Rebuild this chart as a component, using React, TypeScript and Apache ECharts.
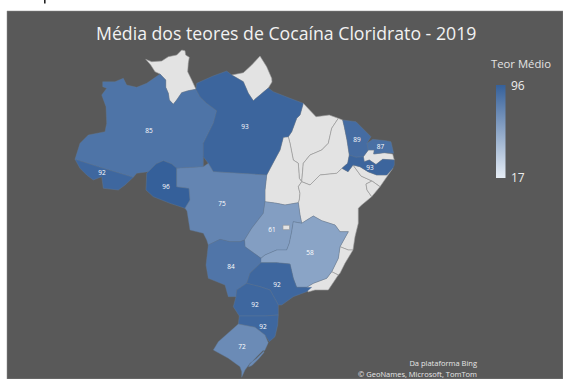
import React, { useEffect, useRef } from "react";
import * as echarts from "echarts";

// Average purity per reporting state; states absent from these lists have no data.
const reportingStates = ["AM", "AC", "RO", "PA", "MT", "GO", "MG", "MS", "SP", "PR", "SC", "RS", "CE", "RN", "PE"];
const averageContent = [85, 92, 96, 93, 75, 61, 58, 84, 92, 92, 92, 72, 89, 87, 93];
const scaleMin = 17;
const scaleMax = 96;
const scaleColors = ["#e6edf5", "#35609a"];

const titleText = "Média dos teores de Cocaína Cloridrato - 2019";
const legendTitle = "Teor Médio";
const attribution = ["Da plataforma Bing", "© GeoNames, Microsoft, TomTom"];

type Pt = [number, number];

// State outlines on a flat map plane, x to the east and y to the south.
const RR: Pt[] = [[145.7,59.3],[151.7,61.7],[161.7,61],[168.3,56.7],[176.7,55],[181.7,50],[185,50.7],[185.7,55],[189.3,57.3],[188.3,63.3],[187.7,71.7],[191.7,80],[196,89.3],[188.3,90.7],[181.7,92.7],[176.7,100],[173.3,104.3],[169.3,100],[168.3,93.3],[165.7,87.3],[165.7,80],[160,74],[155,71.7],[150.7,65]];
const AM: Pt[] = [[102.7,81.7],[115,81.7],[123.3,78.3],[126.7,85],[136.7,87.3],[146.7,83.3],[160,74],[165.7,80],[165.7,87.3],[168.3,93.3],[169.3,100],[173.3,104.3],[176.7,100],[181.7,92.7],[188.3,90.7],[196,89.3],[200,96.7],[206.7,103.3],[216.7,110.7],[213.3,123.3],[203.3,143.3],[203.3,156.7],[203.3,166.7],[176.7,168.3],[171.7,164],[163.3,160.7],[156,164],[148.3,171.7],[136.7,173.3],[133.3,177.3],[103.3,168.3],[75,159.3],[80,143.3],[88.3,135],[105,131.7],[106.7,123.3],[106,106.7],[101.7,95],[106.7,88.3],[102.7,86.7]];
const AC: Pt[] = [[75,159.3],[103.3,168.3],[133.3,177.3],[125,185],[118.3,190],[103.3,188.3],[101.7,176.7],[93.3,180],[86.7,175],[80,168.3]];
const RO: Pt[] = [[148.3,171.7],[156,164],[163.3,160.7],[171.7,164],[176.7,168.3],[176.7,186.7],[189,188.3],[190,200],[185,208.3],[170,203.3],[153.3,196.7],[146,190],[146.7,173.3]];
const PA: Pt[] = [[196,89.3],[196.7,83.3],[213,76],[226.7,71],[231.7,75],[243.3,81.7],[248.3,93.3],[253.3,100.7],[260,95],[268.3,88],[273.3,91.7],[290,98.3],[303.3,103.3],[300,115],[296.7,118.3],[291.7,131.7],[288.3,136.7],[283.3,137.3],[280,150],[273,163],[266.7,175],[213.3,171.7],[208.3,163.3],[203.3,156.7],[203.3,143.3],[213.3,123.3],[216.7,110.7],[206.7,103.3],[200,96.7]];
const AP: Pt[] = [[231.7,75],[243.3,72.7],[251.7,65],[260,56],[266.7,66.7],[271.7,78.3],[272,82],[268.3,88],[260,95],[253.3,100.7],[248.3,93.3],[243.3,81.7]];
const MA: Pt[] = [[303.3,103.3],[316,116.7],[329.3,115],[338.3,118.3],[331.7,128.3],[328.3,143.3],[321.7,150],[310,155],[303.3,163.3],[301.7,181.7],[299.3,178.3],[298.3,163.3],[293.3,160],[290,143.3],[288.3,136.7],[291.7,131.7],[296.7,118.3],[300,115]];
const PI: Pt[] = [[338.3,118.3],[342.7,120],[344.3,126.7],[347,140],[349.3,155],[347.7,163.3],[342,168.3],[336.7,173.3],[320,175],[310,185],[301.7,181.7],[303.3,163.3],[310,155],[321.7,150],[328.3,143.3],[331.7,128.3]];
const CE: Pt[] = [[342.7,120],[356,121.7],[371,136.7],[367,143.3],[368.3,150],[363.3,156.7],[356,157.3],[349.3,155],[347,140],[344.3,126.7]];
const RN: Pt[] = [[367,143.3],[372.7,139.3],[386,140.7],[391,141.7],[393.7,153.3],[384.3,152.7],[373.7,154],[374.3,150],[368.3,150]];
const PB: Pt[] = [[363.3,156.7],[368.3,150],[374.3,150],[373.7,154],[384.3,152.7],[392.7,154],[394.3,160],[382.7,159.3],[376,164.5],[369.3,160],[364.3,161.7]];
const PE: Pt[] = [[349.3,155],[356,157.3],[363.3,156.7],[364.3,161.7],[369.3,160],[376,164.5],[382.7,159.3],[394.3,160],[394.3,165],[393,168],[386.7,175],[376.7,175],[368,171.7],[360,166.7],[353,165],[348,171.7],[342,168.3],[347.7,163.3]];
const AL: Pt[] = [[353,165],[360,166.7],[368,171.7],[376.7,175],[386.7,175],[393,168],[380,186.7],[372,181],[361,176]];
const SE: Pt[] = [[372,181],[380,186.7],[371.7,196.7],[367,190],[366,184]];
const TO: Pt[] = [[283.3,137.3],[288.3,136.7],[290,143.3],[293.3,160],[298.3,163.3],[299.3,178.3],[301.7,181.7],[298.3,186.7],[300,193.3],[299.3,200],[298.3,202.7],[285,205],[276.7,203.3],[265,201.7],[265,190],[266.7,175],[273,163],[280,150]];
const BA: Pt[] = [[301.7,181.7],[310,185],[320,175],[336.7,173.3],[342,168.3],[348,171.7],[353,165],[361,176],[372,181],[366,184],[367,190],[371.7,196.7],[361.7,205],[358.3,208.3],[358.3,223.3],[355,236.7],[353,250],[348.3,250],[340,246.7],[348.3,231.7],[340,231.7],[335,225],[321.7,220.7],[313.3,216],[301.7,223.3],[300,215],[298.3,202.7],[299.3,200],[300,193.3],[298.3,186.7]];
const ES: Pt[] = [[340,246.7],[348.3,250],[353,250],[345,263.3],[340,273.3],[338.3,275],[331.7,271.7],[338.3,258.3]];
const RJ: Pt[] = [[306.7,287.3],[313.3,283.3],[326.7,278.3],[331.7,271.7],[338.3,275],[335,280],[328.3,290],[315,290],[308,292]];
const MT: Pt[] = [[176.7,168.3],[203.3,166.7],[208.3,163.3],[213.3,171.7],[266.7,175],[265,190],[265,201.7],[263.3,213.3],[251.7,228.3],[244.5,240],[240,241.7],[230,241.7],[220,239.3],[208.3,245],[206.7,240],[203.3,233.3],[190,230],[187,211],[185,208.3],[190,200],[189,188.3],[176.7,186.7]];
const GO: Pt[] = [[265,201.7],[276.7,203.3],[285,205],[298.3,202.7],[300,215],[301.7,223.3],[293.3,221.7],[291.7,231.7],[289.3,243.3],[286.7,250],[276.7,250],[265,255],[261,258.3],[245,246.7],[244.5,240],[251.7,228.3],[263.3,213.3]];
const DF: Pt[] = [[283,225.3],[289.5,225.3],[289.5,229.6],[283,229.6]];
const MG: Pt[] = [[293.3,221.7],[301.7,223.3],[313.3,216],[321.7,220.7],[335,225],[340,231.7],[348.3,231.7],[340,246.7],[338.3,258.3],[331.7,271.7],[326.7,278.3],[313.3,283.3],[306.7,287.3],[296.7,287.3],[293.3,278.3],[290,264],[276.7,262.7],[261,262.7],[261,258.3],[265,255],[276.7,250],[286.7,250],[289.3,243.3],[291.7,231.7]];
const MS: Pt[] = [[208.3,245],[220,239.3],[230,241.7],[240,241.7],[244.5,240],[245,246.7],[261,258.3],[261,262.7],[250,273.3],[246.7,283.3],[236.7,290],[236,296.7],[228.3,296.7],[225,285],[208.3,278.3],[206,265]];
const SP: Pt[] = [[261,262.7],[276.7,262.7],[290,264],[293.3,278.3],[296.7,287.3],[306.7,287.3],[311.7,287.3],[306.7,291.7],[293.3,296.7],[281.7,305],[278.3,305],[270,290],[260,286.7],[246.7,283.3],[250,273.3]];
const PR: Pt[] = [[246.7,283.3],[260,286.7],[270,290],[278.3,305],[278.3,315],[265,316],[250,316],[239.3,316],[233.3,306.7],[236,296.7],[236.7,290]];
const SC: Pt[] = [[239.3,316],[250,316],[265,316],[278.3,315],[277.7,325],[275,336.7],[269.3,341.7],[265,335],[255,327.3],[238.3,324]];
const RS: Pt[] = [[238.3,324],[255,327.3],[265,335],[268.3,342.7],[265,350],[256.7,358.3],[250,363.3],[245,370],[241.7,377.3],[241.7,371.7],[240,366.7],[228.3,358.3],[213.3,350],[218.3,341.7]];
const patosLagoon: Pt[] = [[263.5,350],[257.5,356],[249.5,364.5],[248.5,367],[252,365.5],[259,358.5],[264,352.5]];

// Anchor of each state's value label on the same plane.
const labelAnchors: Record<string, Pt> = {
  AM: [149, 130], AC: [102, 172], RO: [166, 186], PA: [245, 126], MT: [222, 203],
  GO: [272, 229], MG: [310, 252], MS: [231, 266], SP: [277, 284], PR: [255, 304],
  SC: [263, 326], RS: [242, 346], CE: [357, 139], RN: [380.5, 146.5], PE: [370, 167.5],
};

const outlines: Record<string, Pt[]> = { RR, AP, MA, PI, TO, BA, AL, SE, PB, ES, RJ, AM, AC, RO, PA, MT, GO, MS, MG, SP, PR, SC, RS, CE, RN, PE, DF };

// The map plane runs south-positive, GeoJSON north-positive.
const toRing = (ring: Pt[]) => {
  const r = ring.map(([x, y]) => [x, -y]);
  r.push(r[0]);
  return r;
};

const brazilGeo = {
  type: "FeatureCollection",
  features: Object.keys(outlines).map((name) => {
    const anchor = labelAnchors[name];
    const rings = [toRing(outlines[name])];
    if (name === "RS") rings.push(toRing(patosLagoon));
    return {
      type: "Feature",
      properties: { name, ...(anchor ? { cp: [anchor[0], -anchor[1]] } : {}) },
      geometry: { type: "Polygon", coordinates: rings },
    };
  }),
};

const stateData = reportingStates.map((name, i) => ({
  name,
  value: averageContent[i],
  itemStyle: { borderColor: "#5f7898", borderWidth: 0.4 },
}));

const LABEL_FONT = "'Open Sans', 'Noto Sans', sans-serif";

export default function App() {
  const ref = useRef<HTMLDivElement>(null);

  useEffect(() => {
    document.body.style.margin = "0";
    const chart = echarts.init(ref.current!, undefined, { renderer: "svg" });
    echarts.registerMap("brasil", brazilGeo as any);
    chart.setOption({
      animation: false,
      backgroundColor: "#ffffff",
      title: [
        {
          text: titleText,
          left: 91,
          top: 19,
          textStyle: { color: "#f2f2f2", fontFamily: LABEL_FONT, fontSize: 17.7, fontWeight: "normal" },
        },
        {
          text: legendTitle,
          left: 486,
          top: 53,
          textStyle: { color: "#e4e4e4", fontFamily: LABEL_FONT, fontSize: 11.3, fontWeight: "normal" },
        },
      ],
      visualMap: {
        type: "continuous",
        show: false,
        min: scaleMin,
        max: scaleMax,
        seriesIndex: 0,
        inRange: { color: scaleColors },
      },
      graphic: [
        { type: "rect", z: -10, silent: true, shape: { x: 7, y: 11, width: 556, height: 368 }, style: { fill: "#595959", stroke: "#8c8c8c", lineWidth: 0.5 } },
        { type: "rect", z: -10, silent: true, shape: { x: 44, y: 0, width: 1.6, height: 3.5 }, style: { fill: "#222222" } },
        {
          type: "rect",
          z: 10,
          silent: true,
          shape: { x: 496, y: 85, width: 9.5, height: 93 },
          style: {
            fill: new echarts.graphic.LinearGradient(0, 0, 0, 1, [
              { offset: 0, color: scaleColors[1] },
              { offset: 1, color: scaleColors[0] },
            ]),
          },
        },
        { type: "text", z: 10, x: 511, y: 79, style: { text: String(scaleMax), fill: "#ededed", font: `12px ${LABEL_FONT}` } },
        { type: "text", z: 10, x: 511, y: 171, style: { text: String(scaleMin), fill: "#ededed", font: `12px ${LABEL_FONT}` } },
        { type: "text", z: 10, x: 477, y: 358.5, style: { text: attribution[0], fill: "#e6e6e6", align: "right", font: `7.5px ${LABEL_FONT}` } },
        { type: "text", z: 10, x: 477, y: 370, style: { text: attribution[1], fill: "#e6e6e6", align: "right", font: `7.5px ${LABEL_FONT}` } },
      ],
      series: [
        {
          type: "map",
          map: "brasil",
          aspectScale: 1,
          roam: false,
          left: 0,
          top: 0,
          width: 563,
          height: 379,
          boundingCoords: [[0, 0], [563, -379]],
          selectedMode: false,
          silent: true,
          itemStyle: { areaColor: "#e3e3e3", borderColor: "#979797", borderWidth: 0.6 },
          label: {
            show: true,
            color: "#ffffff",
            fontFamily: LABEL_FONT,
            fontSize: 6.5,
            formatter: (p: any) => (Number.isNaN(p.value) || p.value == null ? "" : String(p.value)),
          },
          data: stateData,
        },
      ],
    });
    return () => chart.dispose();
  }, []);

  return <div ref={ref} style={{ position: "fixed", left: 0, top: 0, width: 563, height: 379 }} />;
}
